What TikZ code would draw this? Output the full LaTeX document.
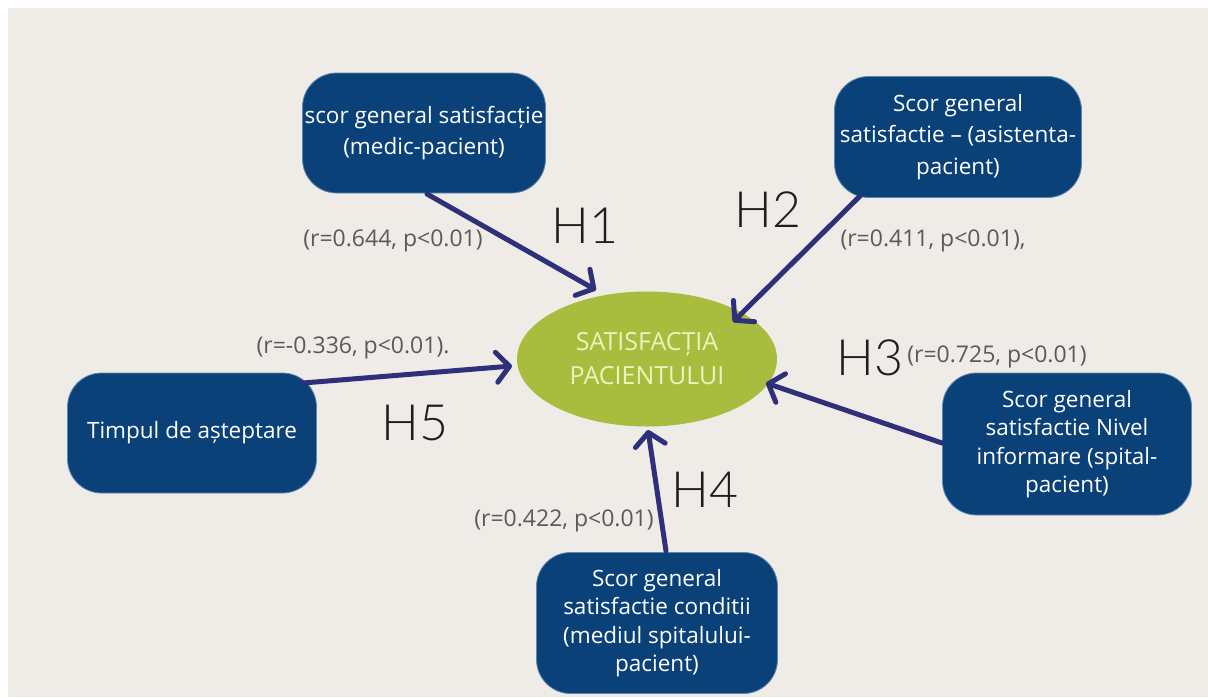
\documentclass[tikz,border=0pt]{standalone}
\usepackage{fontspec}
\setmainfont{Open Sans}
\newfontfamily\thinfont{Lato Light}
\usetikzlibrary{arrows.meta,shapes.geometric}
\definecolor{pagebg}{HTML}{EFEBE6}
\definecolor{boxblue}{HTML}{0A4178}
\definecolor{boxedge}{HTML}{5F88B0}
\definecolor{leaf}{HTML}{A8BD3E}
\definecolor{leaftext}{HTML}{EDF2BE}
\definecolor{navy}{HTML}{2E3079}
\definecolor{stat}{HTML}{5A5A5A}
\definecolor{hyp}{HTML}{1E1E1E}
\tikzset{
  factor/.style={draw=boxedge, line width=0.8pt, fill=boxblue, text=white,
    rounded corners=34pt, align=center, inner sep=2pt,
    font=\fontsize{22.5}{31.5}\selectfont},
  outcome/.style={ellipse, fill=leaf, text=leaftext, align=center,
    inner sep=0pt, font=\fontsize{25}{34}\selectfont},
  link/.style={draw=navy, line width=5pt, line cap=round, line join=round,
    -{Straight Barb[length=13pt,width=30pt,line cap=round,line join=round]}},
  stats/.style={text=stat, font=\fontsize{23}{24}\selectfont, inner sep=0pt},
  hlabel/.style={text=hyp, font=\thinfont\fontsize{50}{50}\selectfont, inner sep=0pt}
}
\begin{document}
\begin{tikzpicture}[x=1pt,y=-1pt]
  % page and panel background
  \fill[white] (0,0) rectangle (1208,697);
  \fill[pagebg] (8,8) rectangle (1208,697);
  \useasboundingbox (0,0) rectangle (1208,697);

  % central outcome
  \node[outcome, minimum width=260pt, minimum height=135pt] (sat) at (647,359)
    {SATISFACȚIA\\PACIENTULUI};

  % predictor boxes
  \node[factor, minimum width=242pt, minimum height=120pt] (medic) at (424,133)
    {scor general satisfacție\\(medic-pacient)};
  \node[factor, minimum width=247pt, minimum height=121pt] (asist) at (958,137)
    {Scor general\\satisfactie – (asistenta-\\pacient)};
  \node[factor, minimum width=249pt, minimum height=142pt,
    font=\fontsize{22.5}{28.5}\selectfont] (info) at (1067,444)
    {Scor general\\satisfactie Nivel\\informare (spital-\\pacient)};
  \node[factor, minimum width=241pt, minimum height=141pt,
    font=\fontsize{22.5}{28.5}\selectfont] (cond) at (657,623)
    {Scor general\\satisfactie conditii\\(mediul spitalului-\\pacient)};
  \node[factor, minimum width=249pt, minimum height=120pt] (timp) at (192,433)
    {Timpul de așteptare};

  % connector end points
  \coordinate (t1) at (596,290);
  \coordinate (t2) at (733,322);
  \coordinate (t3) at (766,383);
  \coordinate (t4) at (648,430);
  \coordinate (t5) at (512,366);
  \coordinate (s1) at (427,194);
  \coordinate (s2) at (860,196);
  \coordinate (s3) at (942,443);
  \coordinate (s4) at (666,551);
  \coordinate (s5) at (303,383);

  \draw[link] (s1) -- (t1);
  \draw[link] (s2) -- (t2);
  \draw[link] (s3) -- (t3);
  \draw[link] (s4) -- (t4);
  \draw[link] (s5) -- (t5);

  % correlation labels
  \node[stats] (r1) at (393,241) {(r=0.644, p<0.01)};
  \node[stats] (r2) at (933,241) {(r=0.411, p<0.01),};
  \node[stats] (r3) at (997,357) {(r=0.725, p<0.01)};
  \node[stats] (r4) at (564,521) {(r=0.422, p<0.01)};
  \node[stats] (r5) at (353,348) {(r=-0.336, p<0.01).};

  % hypothesis labels
  \node[hlabel] (h1) at (585,226) {H1};
  \node[hlabel] (h2) at (768,210) {H2};
  \node[hlabel] (h3) at (870,358) {H3};
  \node[hlabel] (h4) at (705,490) {H4};
  \node[hlabel] (h5) at (415,423) {H5};
\end{tikzpicture}
\end{document}
